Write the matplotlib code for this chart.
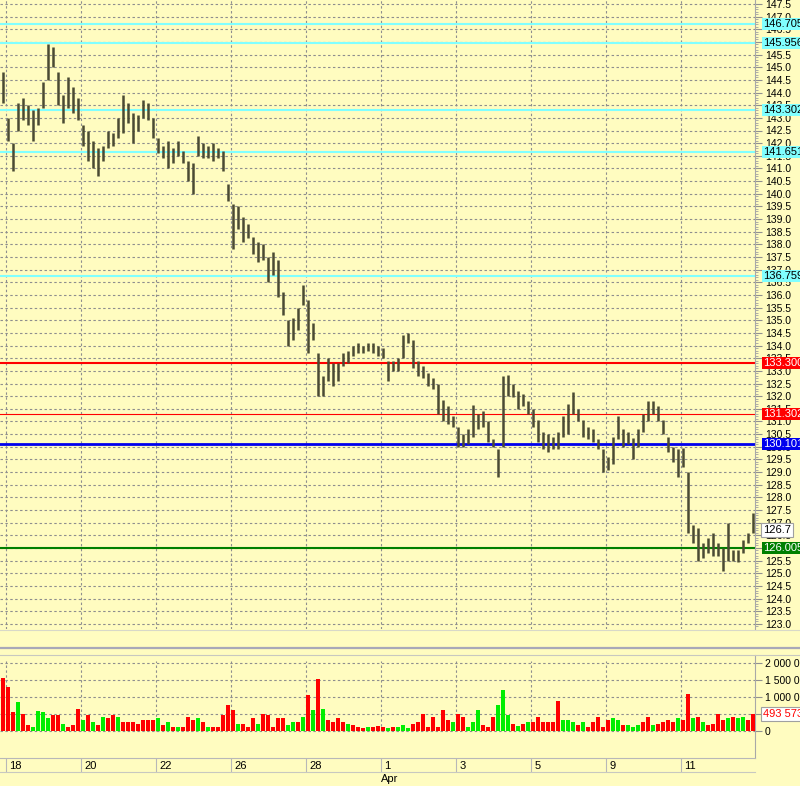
import matplotlib
matplotlib.use("Agg")
import matplotlib.pyplot as plt
import numpy as np

# price bars (high / low), one per ~5 px slot
highs = [
    144.8, 143.0, 142.0, 143.6, 143.8, 143.5, 143.3, 143.4, 144.4, 145.9,
    145.8, 144.8, 143.9, 144.6, 144.2, 143.8, 142.7, 142.5, 142.1, 141.8,
    141.9, 142.5, 142.4, 143.0, 143.9, 143.6, 143.2, 143.1, 143.7, 143.6,
    143.0, 142.2, 141.9, 142.1, 141.8, 142.1, 141.7, 141.3, 141.2, 142.3,
    142.0, 141.9, 142.0, 141.8, 141.7, 140.4, 139.6, 139.5, 139.1, 138.8,
    138.3, 138.1, 138.0, 137.5, 137.7, 137.4, 136.1, 135.0, 135.1, 135.5,
    136.4, 135.8, 134.9, 133.7, 132.8, 133.5, 133.3, 133.3, 133.7, 133.8,
    134.0, 134.1, 134.0, 134.1, 134.1, 134.0, 133.9, 133.4, 133.4, 133.5,
    134.4, 134.5, 134.2, 133.4, 133.2, 132.9, 132.7, 132.5, 131.85, 131.6,
    131.2, 130.8, 130.5, 130.7, 131.65, 131.3, 131.4, 131.0, 130.3, 129.9,
    132.8, 132.85, 132.5, 132.2, 132.1, 131.8, 131.5, 131.05, 130.6, 130.5,
    130.4, 130.6, 131.2, 131.7, 132.15, 131.5, 131.05, 130.8, 130.7, 130.3,
    129.9, 129.6, 130.4, 131.2, 130.7, 130.6, 130.35, 130.7, 131.3, 131.8,
    131.8, 131.6, 131.05, 130.4, 130.0, 129.9, 129.95, 129.0, 126.9, 126.8,
    126.2, 126.4, 126.6, 126.2, 126.0, 127.0, 125.9, 125.9, 126.3, 126.6,
    127.4,
]
lows = [
    143.6, 142.1, 140.9, 142.5, 142.9, 142.7, 142.1, 142.7, 143.4, 144.5,
    145.0, 143.5, 142.8, 143.4, 143.2, 142.9, 141.9, 141.3, 141.0, 140.7,
    141.3, 141.8, 141.9, 142.2, 142.4, 142.8, 142.0, 142.5, 143.0, 142.9,
    142.2, 141.6, 141.4, 141.0, 141.2, 141.5, 141.2, 140.5, 140.0, 141.5,
    141.4, 141.4, 141.3, 141.4, 140.9, 139.7, 137.8, 138.6, 138.1, 138.25,
    137.6, 137.3, 137.4, 136.5, 136.8, 135.9, 135.2, 134.0, 134.2, 134.6,
    135.6, 133.7, 134.2, 132.0, 132.0, 132.6, 132.4, 132.6, 133.2, 133.3,
    133.6, 133.7, 133.7, 133.8, 133.7, 133.6, 133.5, 132.6, 133.0, 133.0,
    133.5, 134.1, 133.1, 132.8, 132.7, 132.4, 132.3, 131.3, 131.0, 130.9,
    130.8, 130.0, 130.0, 130.1, 130.4, 130.7, 130.8, 130.2, 130.0, 128.8,
    130.0, 132.0, 131.95, 131.5, 131.6, 131.3, 130.8, 130.2, 129.9, 129.8,
    129.9, 129.9, 130.4, 130.5, 131.3, 131.0, 130.4, 130.3, 130.2, 129.9,
    129.0, 129.1, 129.3, 130.3, 130.0, 130.1, 129.5, 130.0, 130.6, 131.0,
    131.3, 131.0, 130.5, 129.8, 129.4, 128.8, 129.2, 126.6, 126.2, 125.5,
    125.6, 125.8, 125.7, 125.7, 125.1, 125.5, 125.5, 125.45, 125.8, 126.2,
    126.6,
]
volumes = [
    1550, 1300, 550, 850, 500, 180, 130, 600, 560, 370,
    470, 470, 220, 130, 180, 660, 320, 470, 270, 180,
    420, 370, 470, 420, 270, 270, 270, 220, 320, 320,
    320, 370, 180, 270, 130, 130, 130, 420, 320, 370,
    270, 130, 130, 130, 470, 770, 620, 220, 220, 130,
    370, 220, 500, 470, 130, 370, 370, 180, 270, 270,
    420, 1060, 620, 1530, 640, 320, 270, 370, 270, 220,
    180, 130, 80, 130, 110, 150, 110, 80, 130, 110,
    180, 80, 220, 270, 500, 130, 420, 130, 620, 320,
    270, 500, 420, 130, 270, 620, 180, 130, 420, 770,
    1210, 470, 220, 150, 220, 270, 270, 420, 270, 270,
    270, 870, 320, 320, 270, 180, 270, 130, 270, 420,
    130, 320, 370, 320, 180, 180, 130, 180, 270, 420,
    180, 220, 270, 320, 270, 370, 320, 1090, 370, 420,
    270, 180, 220, 500, 320, 370, 420, 370, 420, 320,
    494,
]
# r = down bar (red volume), g = up bar (green volume)
vol_dir = (
    "rrrgrrgggg" "rrgrrrgrgr" "grrgrrrrrr"
    "rgrgrgrrrg" "rgrrrrrgrr" "rgrrrrrggr"
    "grgrgrrrrg" "rrrgrrrgrg" "ggrrrrrrrr"
    "grrgggrrrg" "ggrgrgrrrr" "rrgggrgrrr"
    "rrggrgggrr" "grrrrgrrgr" "grrrrgrggr"
    "r"
)

day_start = [1, 16, 31, 46, 61, 76, 91, 106, 121, 136]
day_labels = ["18", "20", "22", "26", "28", "1", "3", "5", "9", "11"]
month_labels = {"1": "Apr"}

levels = [146.7057, 145.9562, 143.3029, 141.6516, 136.7598, 133.3001, 131.3028, 130.1012, 126.0055]
level_colors = ["#80FFFF", "#80FFFF", "#80FFFF", "#80FFFF", "#80FFFF", "#FF0000", "#FF0000", "#0000EE", "#008000"]
level_text = ["black", "black", "black", "black", "black", "white", "white", "white", "white"]
level_widths = [1.5, 1.5, 1.5, 1.5, 1.5, 1.5, 0.8, 2.0, 1.5]
last_price = 126.7
last_volume = 493573

BG = "#FFFCC0"
GRID = "#8E8E8E"
DASH = (0, (2.2, 2.2))
FONT = "Liberation Sans"
FS = 7.5

plt.rcParams["font.family"] = [FONT, "DejaVu Sans"]

W, H = 800, 786
fig = plt.figure(figsize=(W / 100, H / 100), dpi=100, facecolor=BG)
plot_w = 755 / W
ax = fig.add_axes([0, 1 - 629 / H, plot_w, 629 / H], facecolor=BG)
axv = fig.add_axes([0, 1 - 758 / H, plot_w, (758 - 655) / H], facecolor=BG)

x = np.arange(len(highs))
grid_x = [d - 0.4 for d in day_start]

# ---- price panel
ax.vlines(x, lows, highs, color="#4A4A33", linewidth=1.8, zorder=3)
ax.set_xlim(-0.5, len(highs) - 0.5)
ax.set_ylim(147.5 - 625 / 25.3, 147.5 + 4 / 25.3)
ax.set_yticks(np.arange(123.0, 147.51, 0.5))
ax.set_yticks(np.arange(122.9, 147.6, 0.1), minor=True)
ax.set_yticklabels([f"{v:.1f}" for v in np.arange(123.0, 147.51, 0.5)], fontsize=FS)
ax.set_xticks(grid_x)
ax.set_xticklabels([])
ax.yaxis.tick_right()
ax.tick_params(axis="y", which="major", length=5, color="#909090", pad=2)
ax.tick_params(axis="y", which="minor", length=2.5, color="#A0A0A0")
ax.tick_params(axis="x", length=0)
ax.grid(True, which="major", linestyle=DASH, color=GRID, linewidth=0.8, zorder=1)
for s in ["left", "top", "bottom"]:
    ax.spines[s].set_visible(False)
ax.spines["right"].set_color("#A8A8A8")

for lvl, c, tc, lw in zip(levels, level_colors, level_text, level_widths):
    ax.axhline(lvl, color=c, linewidth=lw, zorder=2)
    ax.annotate(f"{lvl:.4f}", xy=(1, lvl), xycoords=("axes fraction", "data"),
                xytext=(8, 0), textcoords="offset pixels", va="center", ha="left",
                fontsize=FS + 0.5, color=tc, annotation_clip=False, zorder=6,
                bbox=dict(boxstyle="square,pad=0.08", fc=c, ec="none"))

ax.annotate(f"{last_price:.1f}", xy=(1, last_price), xycoords=("axes fraction", "data"),
            xytext=(8, 0), textcoords="offset pixels", va="center", ha="left",
            fontsize=FS + 0.5, color="black", annotation_clip=False, zorder=6,
            bbox=dict(boxstyle="square,pad=0.2", fc="white", ec="#A0A0A0", lw=0.8))

# ---- volume panel
vol = np.array(volumes) * 1000
vcol = ["#FF0000" if d == "r" else "#00EE00" for d in vol_dir]
axv.bar(x, vol, width=0.8, color=vcol, zorder=3)
axv.set_xlim(-0.5, len(highs) - 0.5)
axv.set_ylim(-27 / 34 * 1e6, 76 / 34 * 1e6)
vt = [0, 500000, 1000000, 1500000, 2000000]
axv.set_yticks(vt)
axv.set_yticklabels([f"{v:,}".replace(",", " ") for v in vt], fontsize=FS)
axv.yaxis.tick_right()
axv.tick_params(axis="y", length=5, color="#909090", pad=2)
axv.set_xticks(grid_x)
axv.set_xticklabels([])
axv.tick_params(axis="x", direction="out", length=10, color="#B8B8B8")
axv.grid(True, axis="y", linestyle=DASH, color=GRID, linewidth=0.8, zorder=1)
for gx in grid_x:
    axv.plot([gx, gx], [0, 2.05e6], linestyle=DASH, color=GRID, linewidth=0.8, zorder=1)
for s in ["left", "top"]:
    axv.spines[s].set_visible(False)
axv.spines["right"].set_color("#A8A8A8")
axv.spines["bottom"].set_color("#B8B8B8")

axv.annotate(f"{last_volume:,}".replace(",", " "), xy=(1, last_volume),
             xycoords=("axes fraction", "data"), xytext=(8, 0), textcoords="offset pixels",
             va="center", ha="left", fontsize=FS + 0.5, color="#FF0000",
             annotation_clip=False, zorder=6,
             bbox=dict(boxstyle="square,pad=0.2", fc="white", ec="#A0A0A0", lw=0.8))

xt = axv.get_xaxis_transform()
for gx, lab in zip(grid_x, day_labels):
    axv.annotate(lab, xy=(gx, 0), xycoords=xt, xytext=(4, -8), textcoords="offset pixels",
                 ha="left", va="center", fontsize=FS + 0.5, annotation_clip=False)
    if lab in month_labels:
        axv.annotate(month_labels[lab], xy=(gx, 0), xycoords=xt, xytext=(0, -21),
                     textcoords="offset pixels", ha="left", va="center",
                     fontsize=FS + 0.5, annotation_clip=False)

# panel separators
fig.add_artist(plt.Line2D([0, 1], [1 - 648 / H, 1 - 648 / H], color="#A8A8B8", linewidth=1.6))
fig.add_artist(plt.Line2D([0, 1], [1 - 655 / H, 1 - 655 / H], color="#C8C8C0", linewidth=0.8))
fig.add_artist(plt.Line2D([0, 1], [1 - 630 / H, 1 - 630 / H], color="#D8D8C8", linewidth=0.8))
fig.add_artist(plt.Line2D([0, plot_w], [1 - 772 / H, 1 - 772 / H], color="#C8C8C0", linewidth=0.8))

fig.savefig("out.png", dpi=100, facecolor=BG)
